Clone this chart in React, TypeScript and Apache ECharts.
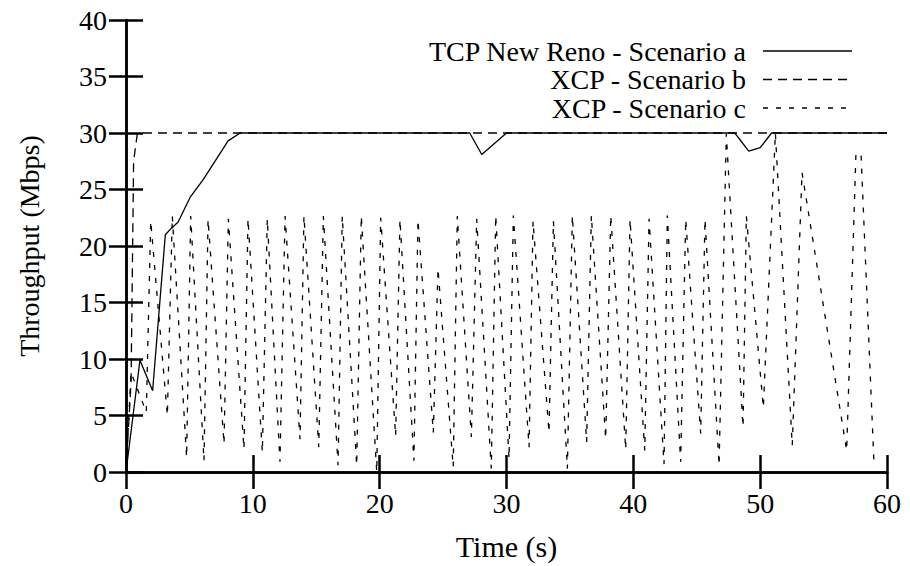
import React, { useEffect, useRef } from "react";
import * as echarts from "echarts";

// Time (s), Throughput (Mbps)
const tcpNewRenoA: [number, number][] = [
  [0, 0], [1.1, 9.9], [2.1, 7.2], [3.1, 21.0], [3.6, 21.6], [4.1, 22.1],
  [5.05, 24.3], [6.1, 25.9], [8.05, 29.3], [9.0, 30], [27.1, 30], [28.05, 28.1],
  [30.0, 30], [48.0, 30], [49.1, 28.4], [50.0, 28.7], [50.9, 30], [60, 30],
];

const xcpB: [number, number][] = [
  [0, 0], [0.4, 8], [0.6, 27.5], [0.9, 30], [60, 30],
];

const xcpC: [number, number][] = [
  [0, 0], [0.4, 8.8], [1.6, 5.3], [1.95, 22.2], [3.26, 5.0], [3.65, 22.65],
  [4.78, 1.3], [5.1, 22.65], [6.15, 1.0], [6.47, 22.35], [7.73, 2.5], [8.07, 22.4],
  [9.3, 2.05], [9.62, 22.4], [10.75, 1.75], [11.14, 22.4], [12.14, 0.9], [12.54, 22.65],
  [13.72, 2.9], [14.03, 22.65], [15.2, 2.2], [15.56, 22.65], [16.72, 0.6], [17.05, 22.65],
  [18.19, 0.6], [18.55, 22.65], [19.77, 0.0], [20.08, 22.5], [21.26, 3.2], [21.6, 22.35],
  [22.7, 1.0], [23.02, 22.3], [24.23, 3.5], [24.6, 18.0], [25.8, 0.45], [26.12, 22.65],
  [27.23, 3.1], [27.65, 22.4], [28.8, 0.3], [29.15, 22.7], [30.2, 1.2], [30.54, 22.7],
  [31.78, 2.2], [32.09, 22.2], [33.35, 3.5], [33.7, 22.2], [34.8, 0.3], [35.19, 22.7],
  [36.32, 2.65], [36.69, 22.7], [37.82, 2.95], [38.22, 22.7], [39.4, 2.0], [39.74, 22.35],
  [40.9, 1.9], [41.24, 22.4], [42.42, 0.7], [42.68, 22.7], [43.73, 0.9], [44.13, 22.35],
  [45.31, 3.4], [45.65, 22.35], [46.76, 0.6], [47.33, 29.9], [48.65, 4.0], [48.91, 22.65],
  [50.25, 5.7], [51.2, 30], [52.53, 2.35], [53.3, 26.5], [56.82, 1.9], [57.55, 28.1],
  [57.95, 28.2], [58.98, 0.6],
];

const seriesNames = ["TCP New Reno - Scenario a", "XCP - Scenario b", "XCP - Scenario c"];
const xTitle = "Time (s)";
const yTitle = "Throughput (Mbps)";

export default function App() {
  const ref = useRef<HTMLDivElement>(null);
  useEffect(() => {
    const chart = echarts.init(ref.current!, null, { renderer: "svg" });
    const font = "'Liberation Serif', 'Times New Roman', serif";
    const axisLine = { show: true, lineStyle: { color: "#000", width: 2.5 } };
    const axisTick = { show: true, inside: true, length: 17, lineStyle: { color: "#000", width: 2.5 } };
    const dashes: (string | number[])[] = ["solid", [9, 6], [5, 8]];
    const datasets = [tcpNewRenoA, xcpB, xcpC];
    const rowsY = [51, 79.5, 108];
    const graphic: any[] = [];
    seriesNames.forEach((name, i) => {
      graphic.push({
        type: "text",
        x: 746,
        y: rowsY[i],
        style: {
          text: name,
          fontFamily: font,
          fontSize: 28,
          lineHeight: 27,
          fill: "#000",
          align: "right",
          verticalAlign: "middle",
        },
      });
      graphic.push({
        type: "line",
        shape: { x1: 763, y1: rowsY[i], x2: 852, y2: rowsY[i] },
        style: {
          stroke: "#000",
          lineWidth: 1.3,
          lineDash: dashes[i] === "solid" ? null : (dashes[i] as number[]),
        },
      });
    });
    chart.setOption({
      animation: false,
      backgroundColor: "#fff",
      grid: { left: 126, top: 20, right: 23, bottom: 93, containLabel: false },
      xAxis: [
        {
          type: "value",
          min: 0,
          max: 60,
          interval: 10,
          position: "bottom",
          name: xTitle,
          nameLocation: "middle",
          nameGap: 59,
          nameTextStyle: { fontFamily: font, fontSize: 30, color: "#000" },
          axisLine,
          axisTick,
          splitLine: { show: false },
          axisLabel: { fontFamily: font, fontSize: 28, color: "#000", margin: 17 },
        },
        {
          type: "value",
          min: 0,
          max: 60,
          interval: 10,
          position: "top",
          axisLine,
          axisTick,
          splitLine: { show: false },
          axisLabel: { show: false },
        },
      ],
      yAxis: [
        {
          type: "value",
          min: 0,
          max: 40,
          interval: 5,
          position: "left",
          name: yTitle,
          nameLocation: "middle",
          nameGap: 83,
          nameTextStyle: { fontFamily: font, fontSize: 28, color: "#000" },
          axisLine,
          axisTick,
          splitLine: { show: false },
          axisLabel: { fontFamily: font, fontSize: 28, color: "#000", margin: 19 },
        },
        {
          type: "value",
          min: 0,
          max: 40,
          interval: 5,
          position: "right",
          axisLine,
          axisTick,
          splitLine: { show: false },
          axisLabel: { show: false },
        },
      ],
      series: datasets.map((d, i) => ({
        name: seriesNames[i],
        type: "line",
        xAxisIndex: 0,
        yAxisIndex: 0,
        data: d,
        symbol: "none",
        showSymbol: false,
        lineStyle: { color: "#000", width: 1.3, type: dashes[i] },
        clip: true,
      })),
      graphic,
    });
    return () => chart.dispose();
  }, []);
  return (
    <div
      ref={ref}
      style={{ position: "absolute", left: 0, top: 0, width: 910, height: 566, background: "#fff" }}
    />
  );
}
